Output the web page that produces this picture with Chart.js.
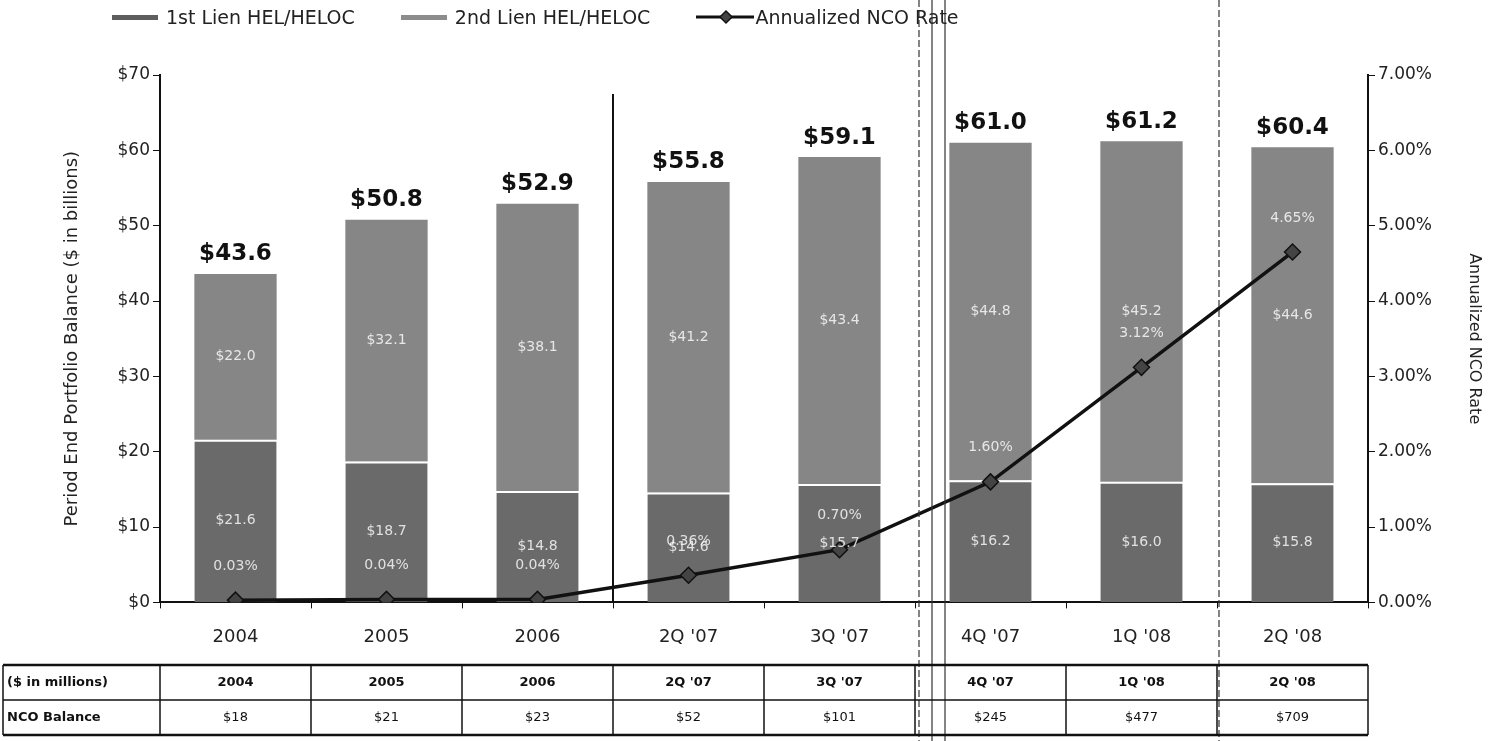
<!DOCTYPE html>
<html>
<head>
<meta charset="utf-8">
<script src="https://cdn.jsdelivr.net/npm/chart.js@4"></script>
<style>
  body { margin: 0; background: #fff; }
  #wrap { position: relative; width: 1494px; height: 741px; }
  #legend { position: absolute; left: 112px; top: 6px; font: 19px "DejaVu Sans", sans-serif; color: #222; display: flex; align-items: center; }
  #legend span.item { display: flex; align-items: center; margin-right: 46px; }
  .sw { display: inline-block; width: 46px; height: 5px; margin-right: 8px; }
</style>
</head>
<body>
<div id="wrap">
  <canvas id="js--chart" width="1494" height="741"></canvas>
  <div id="legend">
    <span class="item"><span class="sw" style="background:#5e5e5e"></span>1st Lien HEL/HELOC</span>
    <span class="item"><span class="sw" style="background:#8c8c8c"></span>2nd Lien HEL/HELOC</span>
    <span class="item">
      <svg width="58" height="16" style="margin-right:1px"><line x1="0" y1="8" x2="58" y2="8" stroke="#111" stroke-width="3"/><polygon points="30,2 36,8 30,14 24,8" fill="#444" stroke="#111" stroke-width="1.5"/></svg>Annualized NCO Rate</span>
  </div>
</div>
<script>
const ctx = document.getElementById('js--chart');

const periods = ['2004', '2005', '2006', "2Q '07", "3Q '07", "4Q '07", "1Q '08", "2Q '08"];
const firstLien = [21.6, 18.7, 14.8, 14.6, 15.7, 16.2, 16.0, 15.8];
const secondLien = [22.0, 32.1, 38.1, 41.2, 43.4, 44.8, 45.2, 44.6];
const totals = [43.6, 50.8, 52.9, 55.8, 59.1, 61.0, 61.2, 60.4];
const ncoRate = [0.03, 0.04, 0.04, 0.36, 0.70, 1.60, 3.12, 4.65];
const ncoBalance = ['$18', '$21', '$23', '$52', '$101', '$245', '$477', '$709'];

// labels on bars + line
const labelsPlugin = {
    id: 'labels',
    afterDatasetsDraw(chart) {
        const c = chart.ctx;
        const m1 = chart.getDatasetMeta(0);
        const m2 = chart.getDatasetMeta(1);
        const m3 = chart.getDatasetMeta(2);
        c.save();
        c.textAlign = 'center';
        for (let i = 0; i < periods.length; i++) {
            const b1 = m1.data[i], b2 = m2.data[i], p = m3.data[i];
            c.textBaseline = 'middle';
            c.fillStyle = 'rgba(255,255,255,0.8)';
            c.font = '14px "DejaVu Sans", sans-serif';
            c.fillText('$' + firstLien[i].toFixed(1), b1.x, (b1.y + b1.base) / 2);
            c.fillText('$' + secondLien[i].toFixed(1), b2.x, (b2.y + b2.base) / 2);
            c.fillText(ncoRate[i].toFixed(2) + '%', p.x, p.y - 34);
            c.fillStyle = '#111';
            c.font = 'bold 23px "DejaVu Sans", sans-serif';
            c.textBaseline = 'bottom';
            c.fillText('$' + totals[i].toFixed(1), b2.x, b2.y - 8);
        }
        c.restore();
    }
};

// separators and table below the chart
const tablePlugin = {
    id: 'table',
    afterDraw(chart) {
        const c = chart.ctx;
        const x = chart.scales.x;
        const area = chart.chartArea;
        const step = x.getPixelForValue(1) - x.getPixelForValue(0);
        const mid = (i) => (x.getPixelForValue(i) + x.getPixelForValue(i + 1)) / 2;
        c.save();
        // solid separator annual / quarterly
        c.strokeStyle = '#111';
        c.lineWidth = 2;
        c.beginPath();
        c.moveTo(mid(2), area.top + 19);
        c.lineTo(mid(2), area.bottom);
        c.stroke();
        // scan lines
        c.lineWidth = 1.2;
        c.strokeStyle = '#333';
        c.setLineDash([7, 3]);
        [mid(4) + 4, mid(6) + 2].forEach(px => {
            c.beginPath(); c.moveTo(px, 0); c.lineTo(px, 741); c.stroke();
        });
        c.setLineDash([]);
        [mid(4) + 17, mid(4) + 30].forEach(px => {
            c.beginPath(); c.moveTo(px, 0); c.lineTo(px, 741); c.stroke();
        });

        // table
        const top = 665, rowH = 35;
        const left = 3, right = x.getPixelForValue(periods.length - 1) + step / 2;
        c.strokeStyle = '#111';
        c.lineWidth = 2.5;
        c.beginPath(); c.moveTo(left, top); c.lineTo(right, top); c.stroke();
        c.beginPath(); c.moveTo(left, top + rowH * 2); c.lineTo(right, top + rowH * 2); c.stroke();
        c.lineWidth = 1.5;
        c.beginPath(); c.moveTo(left, top + rowH); c.lineTo(right, top + rowH); c.stroke();
        c.beginPath(); c.moveTo(left, top); c.lineTo(left, top + rowH * 2); c.stroke();
        for (let i = 0; i <= periods.length; i++) {
            const px = x.getPixelForValue(0) - step / 2 + i * step;
            c.beginPath(); c.moveTo(px, top); c.lineTo(px, top + rowH * 2); c.stroke();
        }
        c.fillStyle = '#111';
        c.textBaseline = 'middle';
        c.textAlign = 'left';
        c.font = 'bold 13px "DejaVu Sans", sans-serif';
        c.fillText('($ in millions)', left + 4, top + rowH / 2);
        c.fillText('NCO Balance', left + 4, top + rowH * 1.5);
        c.textAlign = 'center';
        for (let i = 0; i < periods.length; i++) {
            const px = x.getPixelForValue(i);
            c.font = 'bold 13px "DejaVu Sans", sans-serif';
            c.fillText(periods[i], px, top + rowH / 2);
            c.font = '13px "DejaVu Sans", sans-serif';
            c.fillText(ncoBalance[i], px, top + rowH * 1.5);
        }
        c.restore();
    }
};

new Chart(ctx, {
    type: 'bar',
    data: {
        labels: periods,
        datasets: [{
            label: '1st Lien HEL/HELOC',
            data: firstLien,
            backgroundColor: '#6a6a6a',
            borderColor: '#ffffff',
            borderWidth: { top: 2 },
            borderSkipped: false,
            yAxisID: 'y',
            stack: 'bal',
            order: 1
        }, {
            label: '2nd Lien HEL/HELOC',
            data: secondLien,
            backgroundColor: '#868686',
            borderWidth: 0,
            yAxisID: 'y',
            stack: 'bal',
            order: 1
        }, {
            type: 'line',
            label: 'Annualized NCO Rate',
            data: ncoRate,
            borderColor: '#111',
            borderWidth: 3.5,
            pointStyle: 'rectRot',
            pointRadius: 8,
            pointBackgroundColor: '#444',
            pointBorderColor: '#111',
            pointBorderWidth: 1.5,
            yAxisID: 'y1',
            order: 0
        }]
    },
    options: {
        responsive: false,
        animation: false,
        categoryPercentage: 1,
        barPercentage: 0.545,
        layout: { padding: { top: 75, left: 58, right: 6, bottom: 75 } },
        plugins: { legend: { display: false }, tooltip: { enabled: false } },
        scales: {
            x: {
                grid: { drawOnChartArea: false, tickLength: 6, color: '#111' },
                border: { color: '#111', width: 2 },
                ticks: { color: '#222', font: { family: 'DejaVu Sans', size: 18 }, padding: 18 }
            },
            y: {
                position: 'left',
                stacked: true,
                min: 0, max: 70,
                afterFit: s => { s.width = 102; },
                grid: { drawOnChartArea: false, tickLength: 7, color: '#111' },
                border: { color: '#111', width: 2 },
                ticks: { stepSize: 10, color: '#222', font: { family: 'DejaVu Sans', size: 17 }, callback: v => '$' + v },
                title: { display: true, text: 'Period End Portfolio Balance ($ in billions)', color: '#222', font: { family: 'DejaVu Sans', size: 18 } }
            },
            y1: {
                position: 'right',
                min: 0, max: 7,
                afterFit: s => { s.width = 120; },
                grid: { drawOnChartArea: false, tickLength: 7, color: '#111' },
                border: { color: '#111', width: 2 },
                ticks: { stepSize: 1, color: '#222', font: { family: 'DejaVu Sans', size: 17 }, callback: v => v.toFixed(2) + '%' },
                title: { display: true, text: 'Annualized NCO Rate', color: '#222', font: { family: 'DejaVu Sans', size: 16 } }
            }
        }
    },
    plugins: [labelsPlugin, tablePlugin]
});
</script>
</body>
</html>
